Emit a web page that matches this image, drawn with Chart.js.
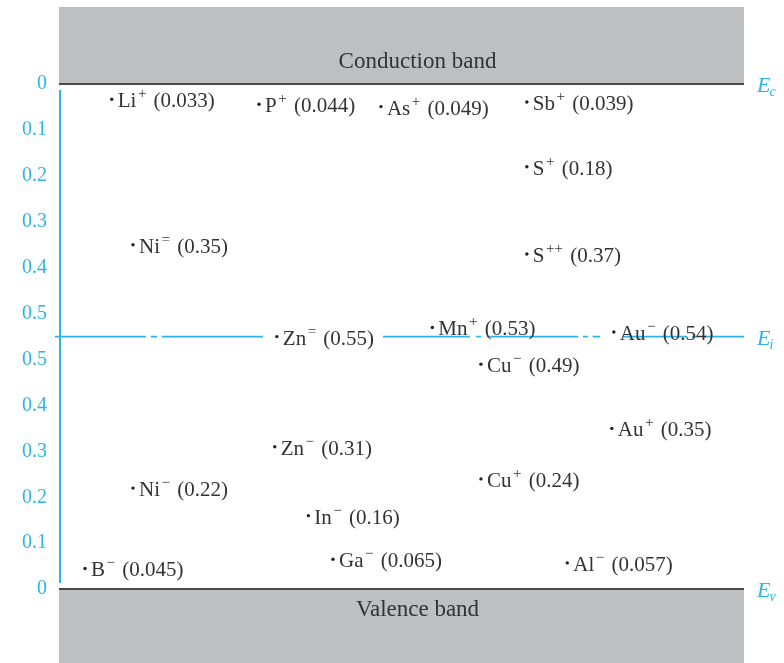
<!DOCTYPE html>
<html>
<head>
<meta charset="utf-8">
<script src="https://cdn.jsdelivr.net/npm/chart.js@4.4.1/dist/chart.umd.min.js"></script>
<style>
  html, body { margin: 0; padding: 0; background: #ffffff; }
  canvas { display: block; }
</style>
</head>
<body>
<canvas id="levelChart" width="784" height="663"></canvas>
<script>
// Silicon band gap (eV), Ei sits in the middle
const bandGap = 1.1;
const conductionShown = 0.168; // part of each band drawn beyond its edge (eV)
const valenceShown = 0.161;

// Levels measured down from Ec (upper half)
const upperNames   = ['Li', 'P', 'As', 'Sb', 'S', 'S', 'Ni', 'Mn', 'Au'];
const upperCharges = ['+', '+', '+', '+', '+', '++', '=', '+', '\u2212'];
const upperValues  = [0.033, 0.044, 0.049, 0.039, 0.18, 0.37, 0.35, 0.53, 0.54];
const upperSlots   = [7.7, 29.2, 47.0, 68.3, 68.3, 68.3, 10.8, 54.5, 81.0];

// Levels measured up from Ev (lower half)
const lowerNames   = ['Zn', 'Cu', 'Au', 'Zn', 'Cu', 'Ni', 'In', 'Ga', 'Al', 'B'];
const lowerCharges = ['=', '\u2212', '+', '\u2212', '+', '\u2212', '\u2212', '\u2212', '\u2212', '\u2212'];
const lowerValues  = [0.55, 0.49, 0.35, 0.31, 0.24, 0.22, 0.16, 0.065, 0.057, 0.045];
const lowerSlots   = [31.8, 61.6, 80.7, 31.5, 61.6, 10.8, 36.4, 40.0, 74.2, 3.8];

// Energy ticks (eV above Ev); labels count from the nearest band edge
const tickValues = [0, 0.1, 0.2, 0.3, 0.4, 0.5, 0.6, 0.7, 0.8, 0.9, 1.0, 1.1];

// Pieces of the broken Ei line, in slot units
const eiSegments = [[-0.6, 12.7], [13.4, 14.3], [15, 29.8], [47.3, 60], [60.9, 61.6],
  [62.5, 75.8], [76.5, 77.2], [77.9, 79], [82.3, 91.7], [92.4, 93.1], [94, 100]];

const CYAN = '#2bb5e8';
const TEXT = '#333333';
const SERIF = '"Liberation Serif", "Times New Roman", serif';

const eiData = [];
eiSegments.forEach(([a, b]) => {
  eiData.push({ x: a, y: bandGap / 2 }, { x: b, y: bandGap / 2 }, { x: b, y: null });
});

const upperData = upperValues.map((v, i) => ({ x: upperSlots[i], y: bandGap - v }));
const lowerData = lowerValues.map((v, i) => ({ x: lowerSlots[i], y: v }));

function drawLevelLabel(ctx, px, py, name, charge, value) {
  const base = py + 8;
  let cx = px + 6;
  ctx.fillStyle = TEXT;
  ctx.textAlign = 'left';
  ctx.textBaseline = 'alphabetic';
  ctx.font = '21px ' + SERIF;
  ctx.fillText(name, cx, base);
  cx += ctx.measureText(name).width + 1.5;
  ctx.font = '15px ' + SERIF;
  ctx.fillText(charge, cx, base - 9);
  cx += ctx.measureText(charge).width + 2;
  ctx.font = '21px ' + SERIF;
  ctx.fillText(' (' + value + ')', cx, base);
}

function drawEdgeLabel(ctx, x, y, sub) {
  ctx.fillStyle = CYAN;
  ctx.textAlign = 'left';
  ctx.textBaseline = 'alphabetic';
  ctx.font = 'italic 22px ' + SERIF;
  ctx.fillText('E', x, y + 8);
  const w = ctx.measureText('E').width;
  ctx.font = 'italic 14px ' + SERIF;
  ctx.fillText(sub, x + w - 1, y + 12);
}

const bandPlugin = {
  id: 'bands',
  beforeDatasetsDraw(chart) {
    const { ctx, chartArea } = chart;
    const y = chart.scales.y;
    const yc = y.getPixelForValue(bandGap);
    const yv = y.getPixelForValue(0);
    ctx.save();
    // conduction and valence bands
    ctx.fillStyle = '#bebfc1';
    ctx.fillRect(chartArea.left, chartArea.top, chartArea.width, yc - chartArea.top);
    ctx.fillRect(chartArea.left, yv, chartArea.width, chartArea.bottom - yv);
    ctx.strokeStyle = '#4a4a4a';
    ctx.lineWidth = 2;
    ctx.beginPath();
    ctx.moveTo(chartArea.left, yc); ctx.lineTo(chartArea.right, yc);
    ctx.moveTo(chartArea.left, yv); ctx.lineTo(chartArea.right, yv);
    ctx.stroke();
    // energy axis
    ctx.strokeStyle = CYAN;
    ctx.beginPath();
    ctx.moveTo(chartArea.left + 1, yc + 6);
    ctx.lineTo(chartArea.left + 1, yv - 6);
    ctx.stroke();
    // band names
    ctx.fillStyle = TEXT;
    ctx.font = '23px ' + SERIF;
    ctx.textAlign = 'center';
    ctx.textBaseline = 'middle';
    const mid = (chartArea.left + chartArea.right) / 2 + 16;
    ctx.fillText('Conduction band', mid, yc - 22);
    ctx.fillText('Valence band', mid, yv + 21);
    ctx.restore();
  },
  afterDatasetsDraw(chart) {
    const { ctx, chartArea } = chart;
    const y = chart.scales.y;
    ctx.save();
    const up = chart.getDatasetMeta(1).data;
    up.forEach((p, i) => drawLevelLabel(ctx, p.x, p.y, upperNames[i], upperCharges[i], upperValues[i]));
    const lo = chart.getDatasetMeta(2).data;
    lo.forEach((p, i) => drawLevelLabel(ctx, p.x, p.y, lowerNames[i], lowerCharges[i], lowerValues[i]));
    const ex = chartArea.right + 13;
    drawEdgeLabel(ctx, ex, y.getPixelForValue(bandGap), 'c');
    drawEdgeLabel(ctx, ex, y.getPixelForValue(bandGap / 2), 'i');
    drawEdgeLabel(ctx, ex, y.getPixelForValue(0), 'v');
    ctx.restore();
  }
};

const ctx = document.getElementById('levelChart').getContext('2d');
new Chart(ctx, {
  type: 'scatter',
  data: {
    datasets: [
      {
        type: 'line',
        label: 'Ei',
        data: eiData,
        borderColor: CYAN,
        borderWidth: 1.6,
        pointRadius: 0,
        spanGaps: false,
        clip: false
      },
      {
        label: 'From Ec',
        data: upperData,
        backgroundColor: '#222222',
        borderWidth: 0,
        pointRadius: 1.7
      },
      {
        label: 'From Ev',
        data: lowerData,
        backgroundColor: '#222222',
        borderWidth: 0,
        pointRadius: 1.7
      }
    ]
  },
  options: {
    responsive: false,
    animation: false,
    layout: { autoPadding: false, padding: { top: 7, right: 40, bottom: 0, left: 0 } },
    plugins: {
      legend: { display: false },
      tooltip: { enabled: false }
    },
    scales: {
      x: { type: 'linear', min: 0, max: 100, display: false },
      y: {
        type: 'linear',
        min: -valenceShown,
        max: bandGap + conductionShown,
        border: { display: false },
        grid: { display: false, drawTicks: false },
        afterFit: s => { s.width = 59; s.paddingTop = 0; s.paddingBottom = 0; },
        afterBuildTicks: s => { s.ticks = tickValues.map(v => ({ value: v })); },
        ticks: {
          autoSkip: false,
          padding: 12,
          color: CYAN,
          font: { family: SERIF, size: 20 },
          callback: v => {
            const d = v > bandGap / 2 ? bandGap - v : v;
            return d < 0.001 ? '0' : d.toFixed(1);
          }
        }
      }
    }
  },
  plugins: [bandPlugin]
});
</script>
</body>
</html>
